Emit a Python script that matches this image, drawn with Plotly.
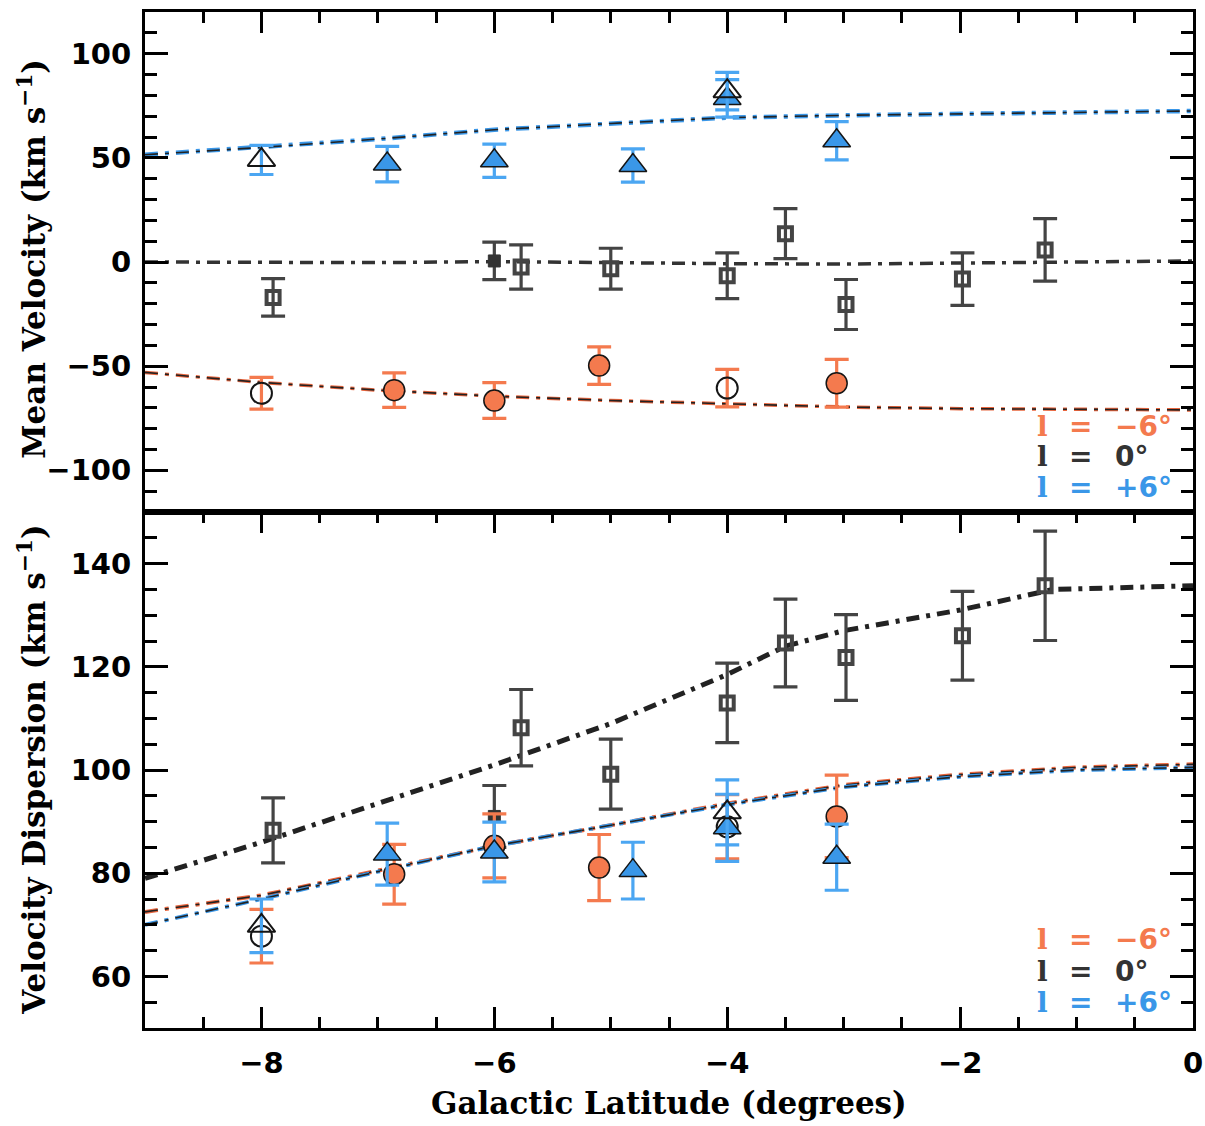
import plotly.graph_objects as go
from plotly.subplots import make_subplots

# ---- l = -6 deg fields ----
lat_m6 = [-8.0, -6.86, -6.0, -5.1, -4.0, -3.06]
mean_m6 = [-63.0, -61.5, -66.5, -49.7, -60.5, -58.2]
mean_m6_err = [7.6, 8.3, 8.6, 9.0, 9.0, 11.5]
disp_m6 = [67.8, 79.8, 85.3, 81.1, 89.0, 91.0]
disp_m6_err = [5.2, 5.8, 6.2, 6.4, 6.2, 8.0]
open_m6 = [True, False, False, False, True, False]

# ---- l = 0 deg fields ----
lat_0 = [-7.9, -6.0, -5.77, -5.0, -4.0, -3.5, -2.98, -1.98, -1.27]
mean_0 = [-17.0, 0.5, -2.4, -3.2, -6.6, 13.6, -20.4, -8.2, 5.8]
mean_0_err = [9.0, 9.0, 10.6, 9.8, 11.0, 12.0, 12.0, 12.6, 15.0]
disp_0 = [88.3, 91.0, 108.2, 99.2, 113.0, 124.6, 121.8, 126.0, 135.7]
disp_0_err = [6.3, 6.0, 7.4, 6.8, 7.7, 8.5, 8.3, 8.6, 10.6]
open_0 = [True, False, True, True, True, True, True, True, True]

# ---- l = +6 deg fields ----
lat_p6 = [-8.0, -6.92, -6.0, -4.81, -4.0, -4.0, -3.06]
mean_p6 = [49.0, 47.0, 48.6, 46.3, 82.0, 78.5, 58.2]
mean_p6_err = [7.0, 8.5, 8.0, 8.0, 9.0, 9.0, 9.2]
disp_p6 = [69.8, 83.7, 84.1, 80.5, 91.8, 88.8, 83.1]
disp_p6_err = [5.2, 6.0, 5.8, 5.5, 6.3, 6.5, 6.4]
open_p6 = [True, False, False, False, True, False, False]

# ---- model curves ----
model_lat = [-9, -8, -7, -6, -5, -4, -3, -2, -1, 0]
model_mean_m6 = [-53.0, -57.8, -61.5, -64.4, -66.5, -68.0, -69.6, -70.4, -70.8, -71.0]
model_mean_0 = [0.0, -0.3, -0.3, 0.2, -0.5, -0.8, -1.0, -0.5, 0.0, 0.5]
model_mean_p6 = [51.5, 55.0, 59.0, 63.5, 66.5, 69.3, 70.4, 71.1, 71.8, 72.5]
model_disp_m6 = [72.5, 75.7, 80.5, 85.3, 89.3, 93.5, 97.1, 99.1, 100.5, 101.1]
model_disp_p6 = [70.0, 75.0, 80.3, 85.3, 89.3, 93.3, 96.7, 98.7, 100.0, 100.5]
model_lat_0 = [-9, -8, -7, -6, -5, -4, -3.5, -3, -2, -1.2, 0]
model_disp_0 = [79.0, 86.0, 93.5, 101.0, 109.0, 118.5, 124.0, 127.0, 131.0, 135.0, 135.7]

x_ticks = [-8, -6, -4, -2, 0]
mean_ticks = [-100, -50, 0, 50, 100]
disp_ticks = [60, 80, 100, 120, 140]

ORANGE = "#F47A4E"
BLUE = "#3A97E8"
BLUE_ERR = "#4BA6F2"
GRAY = "#444444"
DARK = "#151515"
DASH = "13px,7px,4px,7px"

TICK_FONT = dict(family="DejaVu Sans", size=29, color="black", weight="bold")
TITLE_FONT = "DejaVu Serif"
TITLE_SIZE = 31

fig = make_subplots(rows=2, cols=1, shared_xaxes=True, vertical_spacing=0,
                    row_heights=[500, 516])


def model_line(x, y, color, row, width=4, core=True):
    fig.add_trace(go.Scatter(x=x, y=y, mode="lines", showlegend=False,
                             line=dict(color=color, width=width, dash=DASH)),
                  row=row, col=1)
    if core:
        fig.add_trace(go.Scatter(x=x, y=y, mode="lines", showlegend=False,
                                 line=dict(color="#222222", width=1.6, dash=DASH)),
                      row=row, col=1)


def points(x, y, err, is_open, kind, row):
    for flag in (False, True):
        xs = [a for a, o in zip(x, is_open) if o == flag]
        ys = [a for a, o in zip(y, is_open) if o == flag]
        es = [a for a, o in zip(err, is_open) if o == flag]
        if not xs:
            continue
        if kind == "circle":
            ecol, size = ORANGE, 21
            marker = (dict(symbol="circle-open", size=size, color=DARK, line=dict(width=2))
                      if flag else
                      dict(symbol="circle", size=size, color=ORANGE, line=dict(color=DARK, width=1.5)))
        elif kind == "triangle":
            ecol, size = BLUE_ERR, 24
            marker = (dict(symbol="triangle-up-open", size=size, color=DARK, line=dict(width=2))
                      if flag else
                      dict(symbol="triangle-up", size=size, color=BLUE, line=dict(color=DARK, width=1.5)))
        else:
            ecol = GRAY
            marker = (dict(symbol="square-open", size=13, color=GRAY, line=dict(width=4))
                      if flag else
                      dict(symbol="square", size=12, color="#333333", line=dict(color="#333333", width=1)))
        fig.add_trace(go.Scatter(
            x=xs, y=ys, mode="markers", showlegend=False, marker=marker,
            error_y=dict(type="data", array=es, color=ecol, thickness=3.2, width=12)),
            row=row, col=1)


# top panel: mean velocity
model_line(model_lat, model_mean_p6, BLUE, 1, width=4.5)
model_line(model_lat, model_mean_0, "#333333", 1, width=3.5, core=False)
model_line(model_lat, model_mean_m6, "#E8653D", 1, width=3.5)
points(lat_p6, mean_p6, mean_p6_err, open_p6, "triangle", 1)
points(lat_0, mean_0, mean_0_err, open_0, "square", 1)
points(lat_m6, mean_m6, mean_m6_err, open_m6, "circle", 1)

# bottom panel: velocity dispersion
model_line(model_lat_0, model_disp_0, "#222222", 2, width=5, core=False)
model_line(model_lat, model_disp_m6, "#E8653D", 2, width=4)
model_line(model_lat, model_disp_p6, BLUE, 2, width=4)
points(lat_0, disp_0, disp_0_err, open_0, "square", 2)
points(lat_m6, disp_m6, disp_m6_err, open_m6, "circle", 2)
points(lat_p6, disp_p6, disp_p6_err, open_p6, "triangle", 2)

common_axis = dict(showgrid=False, zeroline=False, showline=True, linecolor="black",
                   linewidth=3, ticks="inside", tickcolor="black", tickwidth=3,
                   automargin=False)

fig.update_xaxes(range=[-9, 0], tickvals=x_ticks, ticklen=21,
                 minor=dict(dtick=0.5, ticklen=11, tickwidth=3, tickcolor="black", ticks="inside"),
                 **common_axis)
fig.update_xaxes(row=1, col=1, side="top", mirror=True, showticklabels=False)
fig.update_xaxes(row=2, col=1, mirror="ticks", tickfont=TICK_FONT, ticklabelstandoff=7)

fig.update_yaxes(row=1, col=1, range=[-120, 120], tickvals=mean_ticks, ticklen=23,
                 minor=dict(dtick=10, ticklen=12, tickwidth=3, tickcolor="black", ticks="inside"),
                 mirror="ticks", tickfont=TICK_FONT, ticklabelstandoff=5, **common_axis)
fig.update_yaxes(row=2, col=1, range=[50, 150], tickvals=disp_ticks, ticklen=23,
                 minor=dict(dtick=5, ticklen=12, tickwidth=3, tickcolor="black", ticks="inside"),
                 mirror="ticks", tickfont=TICK_FONT, ticklabelstandoff=5, **common_axis)

annotations = [
    dict(text="<b>Galactic Latitude (degrees)</b>", x=0.5, y=-0.074, xref="paper", yref="paper",
         xanchor="center", yanchor="middle", showarrow=False,
         font=dict(family=TITLE_FONT, size=TITLE_SIZE, color="black")),
    dict(text="<b>Mean Velocity (km s<sup>−1</sup>)</b>", x=-0.108, y=0.757, xref="paper", yref="paper",
         xanchor="center", yanchor="middle", textangle=-90, showarrow=False,
         font=dict(family=TITLE_FONT, size=TITLE_SIZE, color="black")),
    dict(text="<b>Velocity Dispersion (km s<sup>−1</sup>)</b>", x=-0.108, y=0.254, xref="paper", yref="paper",
         xanchor="center", yanchor="middle", textangle=-90, showarrow=False,
         font=dict(family=TITLE_FONT, size=TITLE_SIZE, color="black")),
]

# legend labels in each panel
legend_rows = [("−6°", ORANGE), ("0°", "#333333"), ("+6°", BLUE)]
legend_y = {("x", "y"): [-78.8, -93.3, -108.2], ("x2", "y2"): [67.1, 61.0, 55.0]}
for (xr, yr), ys in legend_y.items():
    for (val, col), yy in zip(legend_rows, ys):
        annotations.append(dict(text="<b>l</b>", x=-1.296, y=yy, xref=xr, yref=yr, xanchor="center",
                                yanchor="middle", showarrow=False,
                                font=dict(family=TITLE_FONT, size=28, color=col)))
        annotations.append(dict(text="<b>=</b>", x=-0.97, y=yy, xref=xr, yref=yr, xanchor="center",
                                yanchor="middle", showarrow=False,
                                font=dict(family="DejaVu Sans", size=28, color=col)))
        annotations.append(dict(text="<b>" + val + "</b>", x=-0.687, y=yy, xref=xr, yref=yr,
                                xanchor="left", yanchor="middle", showarrow=False,
                                font=dict(family="DejaVu Sans", size=28, color=col)))

fig.update_layout(width=1205, height=1126, margin=dict(l=145, r=12, t=12, b=98),
                  paper_bgcolor="white", plot_bgcolor="white", annotations=annotations,
                  showlegend=False)

fig.write_html("out.html")
